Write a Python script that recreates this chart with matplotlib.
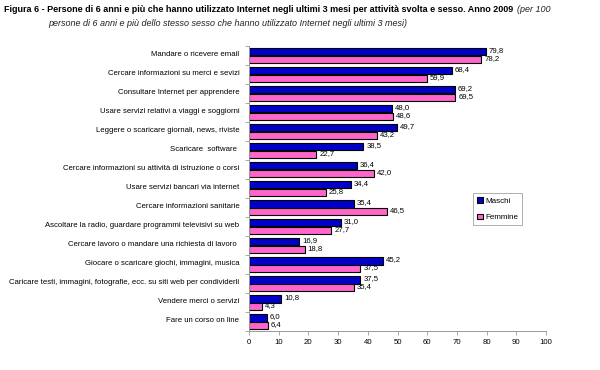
import matplotlib
matplotlib.use("Agg")
import matplotlib.pyplot as plt
from matplotlib import font_manager as fm
import numpy as np

categories = [
    "Mandare o ricevere email",
    "Cercare informazioni su merci e sevizi",
    "Consultare Internet per apprendere",
    "Usare servizi relativi a viaggi e soggiorni",
    "Leggere o scaricare giornali, news, riviste",
    "Scaricare  software ",
    "Cercare informazioni su attività di istruzione o corsi",
    "Usare servizi bancari via internet",
    "Cercare informazioni sanitarie",
    "Ascoltare la radio, guardare programmi televisivi su web",
    "Cercare lavoro o mandare una richiesta di lavoro ",
    "Giocare o scaricare giochi, immagini, musica",
    "Caricare testi, immagini, fotografie, ecc. su siti web per condividerli",
    "Vendere merci o servizi",
    "Fare un corso on line",
]
maschi = [79.8, 68.4, 69.2, 48.0, 49.7, 38.5, 36.4, 34.4, 35.4, 31.0, 16.9, 45.2, 37.5, 10.8, 6.0]
femmine = [78.2, 59.9, 69.5, 48.6, 43.2, 22.7, 42.0, 25.8, 46.5, 27.7, 18.8, 37.5, 35.4, 4.3, 6.4]
xticks = [0, 10, 20, 30, 40, 50, 60, 70, 80, 90, 100]
series_names = ["Maschi", "Femmine"]

names = {f.name for f in fm.fontManager.ttflist}
narrow = "Liberation Sans Narrow" if "Liberation Sans Narrow" in names else "Liberation Sans"
plt.rcParams['font.family'] = ['Liberation Sans', 'DejaVu Sans']

fig = plt.figure(figsize=(6, 3.7), dpi=100)
ax = fig.add_axes([249/600, 1-331/370, (546-249)/600, (331-46)/370])

n = len(categories)
y = np.arange(n)
h = 0.42
blue = "#0000C8"
pink = "#FF66CC"
ax.barh(y - h/2, maschi, height=h, color=blue, edgecolor="black", linewidth=0.8, label=series_names[0])
ax.barh(y + h/2, femmine, height=h, color=pink, edgecolor="black", linewidth=0.8, label=series_names[1])

fs = 5.6
for i in range(n):
    ax.text(maschi[i] + 1.0, y[i] - h/2 - 0.05, f"{maschi[i]:.1f}".replace('.', ','),
            fontsize=fs, va='center', ha='left')
    ax.text(femmine[i] + 1.0, y[i] + h/2 - 0.05, f"{femmine[i]:.1f}".replace('.', ','),
            fontsize=fs, va='center', ha='left')

ax.set_ylim(n - 0.5, -0.5)
ax.set_xlim(0, 100)
ax.set_xticks(xticks)
ax.set_xticklabels([str(t) for t in xticks], fontsize=fs)
ax.set_yticks(y - 0.08)
ax.set_yticklabels(categories, fontsize=fs)
ax.set_yticks(np.arange(n + 1) - 0.5, minor=True)
ax.tick_params(axis='y', which='major', length=0, pad=7)
ax.tick_params(axis='y', which='minor', length=3, color='#999999', width=0.6)
ax.tick_params(axis='x', length=3, color='#999999', width=0.6, pad=3)
for s in ['top', 'right']:
    ax.spines[s].set_visible(False)
for s in ['left', 'bottom']:
    ax.spines[s].set_color('#999999')
    ax.spines[s].set_linewidth(0.7)

leg = fig.legend(loc='upper left', bbox_to_anchor=(473/600, 1-193/370), fontsize=5.8,
                 frameon=True, fancybox=False, edgecolor='#999999', handlelength=0.7,
                 handleheight=0.7, handletextpad=0.3, borderpad=0.5, labelspacing=1.1,
                 borderaxespad=0)
leg.get_frame().set_linewidth(0.7)

# Title with mixed styles
fig.canvas.draw()
r = fig.canvas.get_renderer()
tfs = 6.5
t1 = fig.text(4/600, 1-10/370, "Figura 6 - Persone di 6 anni e più che hanno utilizzato Internet negli ultimi 3 mesi per attività svolta e sesso. Anno 2009",
              fontsize=tfs, fontweight='bold', family=[narrow, 'DejaVu Sans'], va='center', ha='left')
bb = t1.get_window_extent(renderer=r)
fig.text((bb.x1 + 4)/600, 1-10/370, "(per 100", fontsize=tfs, fontstyle='italic',
         family=[narrow, 'DejaVu Sans'], va='center', ha='left', color='#222222')
fig.text(48/600, 1-23/370, "persone di 6 anni e più dello stesso sesso che hanno utilizzato Internet negli ultimi 3 mesi)",
         fontsize=tfs, fontstyle='italic', family=[narrow, 'DejaVu Sans'], va='center', ha='left', color='#222222')

fig.savefig("out.png", dpi=100)
